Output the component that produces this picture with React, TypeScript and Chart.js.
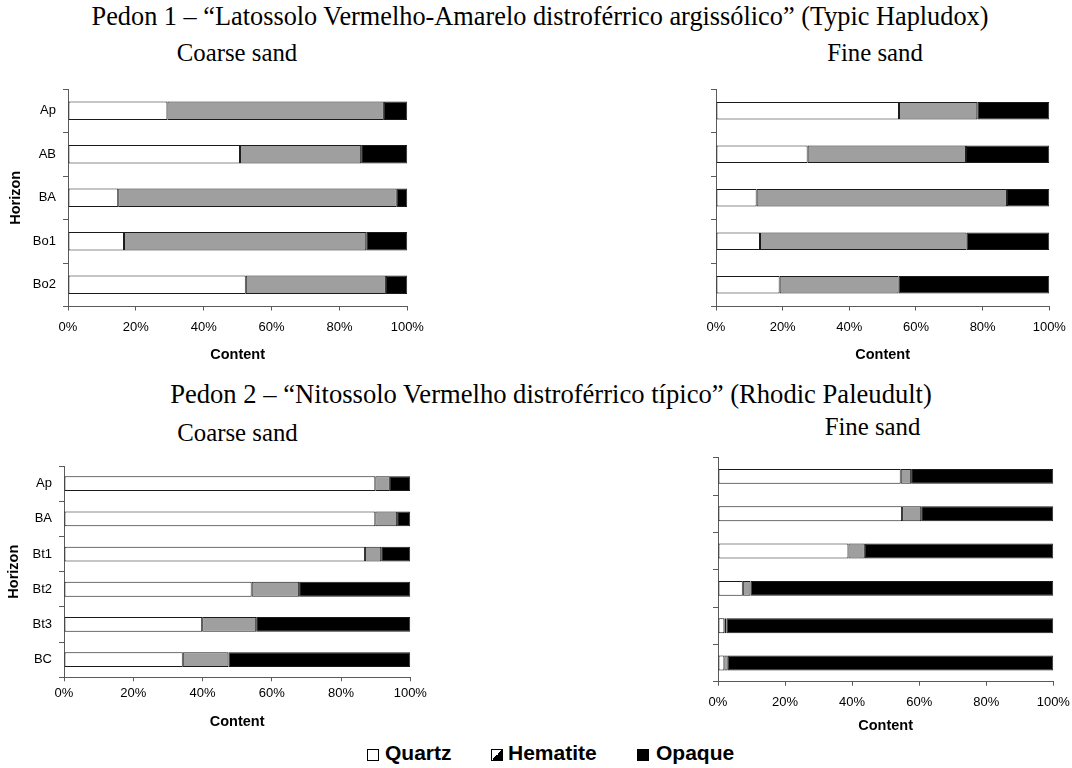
import React, { useEffect, useRef } from "react";
import { Chart, registerables } from "chart.js";

Chart.register(...registerables);

// ---------- data ----------
const pedon1Horizons = ["Ap", "AB", "BA", "Bo1", "Bo2"];
const pedon2Horizons = ["Ap", "BA", "Bt1", "Bt2", "Bt3", "BC"];
const mineralNames = ["Quartz", "Hematite", "Opaque"];
const xTickStep = 20;

// Pedon 1 – coarse sand (%)
const p1CoarseQuartz = [29.3, 50.7, 14.8, 16.5, 52.4];
const p1CoarseHematite = [63.8, 35.7, 82.1, 71.4, 41.3];
const p1CoarseOpaque = [6.9, 13.6, 3.1, 12.1, 6.3];

// Pedon 1 – fine sand (%)
const p1FineQuartz = [54.9, 27.5, 12.2, 13.2, 19.1];
const p1FineHematite = [23.5, 47.5, 75.1, 62.0, 35.7];
const p1FineOpaque = [21.6, 25.0, 12.7, 24.8, 45.2];

// Pedon 2 – coarse sand (%)
const p2CoarseQuartz = [89.9, 89.9, 86.9, 54.2, 39.9, 34.3];
const p2CoarseHematite = [4.2, 6.3, 4.7, 13.7, 15.6, 13.2];
const p2CoarseOpaque = [5.9, 3.8, 8.4, 32.1, 44.5, 52.5];

// Pedon 2 – fine sand (%)
const p2FineQuartz = [54.5, 54.9, 38.9, 7.4, 1.9, 1.9];
const p2FineHematite = [3.1, 5.7, 4.9, 2.3, 0.6, 1.0];
const p2FineOpaque = [42.4, 39.4, 56.2, 90.3, 97.5, 97.1];

// ---------- styles ----------
const SANS = "Arial, 'Liberation Sans', sans-serif";
const SERIF = "'Times New Roman', 'Liberation Serif', serif";
const mineralColors = ["#ffffff", "#9f9f9f", "#000000"];
const barBorder = "#1a1a1a";
const axisColor = "#5a5a5a";

type PanelProps = {
  labels: string[];
  quartz: number[];
  hematite: number[];
  opaque: number[];
  left: number;
  top: number;
  width: number;
  height: number;
  yWidth: number;
  xHeight: number;
  padTop: number;
  padRight: number;
  showY: boolean;
  xTickPad: number;
  xTitlePad: number;
  yTitlePad: number;
  barPct: number;
};

function Panel(p: PanelProps) {
  const ref = useRef<HTMLCanvasElement | null>(null);
  useEffect(() => {
    if (!ref.current) return;
    const values = [p.quartz, p.hematite, p.opaque];
    const chart = new Chart(ref.current, {
      type: "bar",
      data: {
        labels: p.labels,
        datasets: mineralNames.map((name, i) => ({
          label: name,
          data: values[i],
          backgroundColor: mineralColors[i],
          borderColor: barBorder,
          borderWidth: 1,
          borderSkipped: false,
          barPercentage: p.barPct,
          categoryPercentage: 1,
        })),
      },
      options: {
        indexAxis: "y",
        responsive: false,
        animation: false,
        devicePixelRatio: 1,
        layout: { padding: { left: 0, top: p.padTop, right: p.padRight, bottom: 0 } },
        plugins: { legend: { display: false }, tooltip: { enabled: false } },
        scales: {
          x: {
            stacked: true,
            min: 0,
            max: 100,
            ticks: {
              stepSize: xTickStep,
              callback: (v: any) => v + "%",
              color: "#000",
              font: { family: SANS, size: 13 },
              padding: p.xTickPad,
              maxRotation: 0,
            },
            grid: { drawOnChartArea: false, drawTicks: true, tickLength: 4, color: axisColor },
            border: { display: true, color: axisColor, width: 1 },
            title: {
              display: true,
              text: "Content",
              color: "#000",
              font: { family: SANS, size: 14.5, weight: "bold" },
              padding: p.xTitlePad,
            },
            afterFit: (s: any) => {
              s.height = p.xHeight;
              s.paddingLeft = 0;
              s.paddingRight = 0;
            },
          },
          y: {
            stacked: true,
            ticks: {
              display: p.showY,
              color: "#000",
              font: { family: SANS, size: 13 },
              padding: 7,
            },
            grid: { drawOnChartArea: false, drawTicks: true, tickLength: 5, color: axisColor, offset: true },
            border: { display: true, color: axisColor, width: 1 },
            title: {
              display: p.showY,
              text: "Horizon",
              color: "#000",
              font: { family: SANS, size: 14.5, weight: "bold" },
              padding: p.yTitlePad,
            },
            afterFit: (s: any) => {
              s.width = p.yWidth;
              s.paddingTop = 0;
              s.paddingBottom = 0;
            },
          },
        },
      },
    } as any);
    return () => chart.destroy();
  }, []);
  return (
    <div style={{ position: "absolute", left: p.left, top: p.top, width: p.width, height: p.height }}>
      <canvas ref={ref} width={p.width} height={p.height} style={{ display: "block" }} />
    </div>
  );
}

function Text(props: { x: number; baseline: number; size: number; family: string; bold?: boolean; children: any }) {
  const asc = props.family === SERIF ? 0.8375 : 0.8465;
  return (
    <div
      style={{
        position: "absolute",
        left: props.x,
        top: props.baseline - asc * props.size,
        transform: "translateX(-50%)",
        whiteSpace: "nowrap",
        fontFamily: props.family,
        fontSize: props.size,
        lineHeight: "1",
        fontWeight: props.bold ? "bold" : "normal",
        color: "#000",
      }}
    >
      {props.children}
    </div>
  );
}

function LegendItem(props: { x: number; textX: number; kind: number; text: string }) {
  const bg =
    props.kind === 0
      ? "#ffffff"
      : props.kind === 1
      ? "linear-gradient(to bottom right, #ffffff 50%, #000000 50%)"
      : "#000000";
  return (
    <>
      <div
        style={{
          position: "absolute",
          left: props.x,
          top: 749,
          width: 10,
          height: 10,
          border: "1px solid #000",
          background: bg,
        }}
      />
      <div
        style={{
          position: "absolute",
          left: props.textX,
          top: 760 - 0.8465 * 21,
          fontFamily: SANS,
          fontWeight: "bold",
          fontSize: 21,
          lineHeight: "1",
          whiteSpace: "nowrap",
          color: "#000",
        }}
      >
        {props.text}
      </div>
    </>
  );
}

export default function App() {
  return (
    <div style={{ position: "absolute", left: 0, top: 0, width: 1072, height: 768, background: "#fff", overflow: "hidden" }}>
      <Text x={540} baseline={26} size={26.3} family={SERIF}>
        Pedon 1 – “Latossolo Vermelho-Amarelo distroférrico argissólico” (Typic Hapludox)
      </Text>
      <Text x={237} baseline={61.7} size={24.8} family={SERIF}>Coarse sand</Text>
      <Text x={875} baseline={61.7} size={24.8} family={SERIF}>Fine sand</Text>
      <Text x={551} baseline={403.3} size={26.6} family={SERIF}>
        Pedon 2 – “Nitossolo Vermelho distroférrico típico” (Rhodic Paleudult)
      </Text>
      <Text x={237.5} baseline={441.7} size={24.8} family={SERIF}>Coarse sand</Text>
      <Text x={872.5} baseline={435.7} size={24.8} family={SERIF}>Fine sand</Text>

      <Panel
        labels={pedon1Horizons}
        quartz={p1CoarseQuartz}
        hematite={p1CoarseHematite}
        opaque={p1CoarseOpaque}
        left={0}
        top={80}
        width={430}
        height={290}
        yWidth={68}
        xHeight={63.5}
        padTop={9}
        padRight={22.7}
        showY={true}
        xTickPad={9.5}
        xTitlePad={6.3}
        yTitlePad={7.3}
        barPct={0.42}
      />
      <Panel
        labels={pedon1Horizons}
        quartz={p1FineQuartz}
        hematite={p1FineHematite}
        opaque={p1FineOpaque}
        left={660}
        top={80}
        width={412}
        height={290}
        yWidth={56}
        xHeight={63.5}
        padTop={9}
        padRight={22.7}
        showY={false}
        xTickPad={9.5}
        xTitlePad={6.3}
        yTitlePad={0}
        barPct={0.4}
      />
      <Panel
        labels={pedon2Horizons}
        quartz={p2CoarseQuartz}
        hematite={p2CoarseHematite}
        opaque={p2CoarseOpaque}
        left={0}
        top={450}
        width={430}
        height={290}
        yWidth={64}
        xHeight={62.7}
        padTop={16}
        padRight={19.7}
        showY={true}
        xTickPad={3.9}
        xTitlePad={9.6}
        yTitlePad={5.3}
        barPct={0.42}
      />
      <Panel
        labels={pedon2Horizons}
        quartz={p2FineQuartz}
        hematite={p2FineHematite}
        opaque={p2FineOpaque}
        left={660}
        top={450}
        width={412}
        height={290}
        yWidth={58}
        xHeight={58.3}
        padTop={7.7}
        padRight={18.7}
        showY={false}
        xTickPad={9.2}
        xTitlePad={5.3}
        yTitlePad={0}
        barPct={0.4}
      />

      <LegendItem x={367} textX={385} kind={0} text="Quartz" />
      <LegendItem x={491} textX={508} kind={1} text="Hematite" />
      <LegendItem x={637} textX={656} kind={2} text="Opaque" />
    </div>
  );
}
